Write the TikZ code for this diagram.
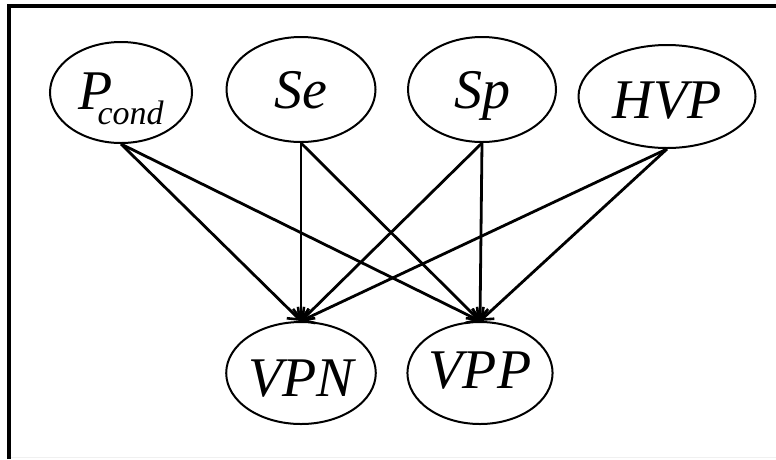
\documentclass[tikz,border=0pt]{standalone}
\usepackage{fontspec}
\setmainfont{Liberation Serif}
\usetikzlibrary{shapes.geometric,arrows.meta}
\begin{document}
\begin{tikzpicture}[x=1pt,y=-1pt,
  var/.style={ellipse,draw,line width=2pt,inner sep=0pt,text depth=0pt,
    font=\fontsize{56}{60}\selectfont\itshape},
  edge/.style={line width=2.8pt,-{Straight Barb[length=10pt,width=16pt,line width=2.6pt]}}]
\useasboundingbox (0,0) rectangle (776,459);
\draw[gray!12,line width=1pt] (9,457.5) -- (776,457.5);
\draw[line width=3.5pt] (9,459) -- (9,6) -- (776,6);
\node[var,minimum width=142pt,minimum height=101pt,text height=33pt] (pc) at (121,92.5)
  {P\kern-15pt\raisebox{-15pt}{\fontsize{34}{34}\selectfont cond}\hspace{10pt}};
\node[var,minimum width=149pt,minimum height=105pt,text height=38pt] (se) at (301,89.5) {Se};
\node[var,minimum width=148pt,minimum height=105pt,text height=38pt] (sp) at (482,89.5) {Sp};
\node[var,minimum width=177pt,minimum height=103pt,text height=43pt] (hvp) at (667,96.5) {HVP};
\node[var,minimum width=139pt,minimum height=102pt,text height=47pt] (vpn) at (301,373) {VPN};
\node[var,minimum width=138pt,minimum height=102pt,text height=30pt] (vpp) at (480,373) {VPP};
\foreach \s in {pc,se,sp,hvp}{
  \draw[edge] (\s.south) -- (vpn.north);
  \draw[edge] (\s.south) -- (vpp.north);
}
\end{tikzpicture}
\end{document}
